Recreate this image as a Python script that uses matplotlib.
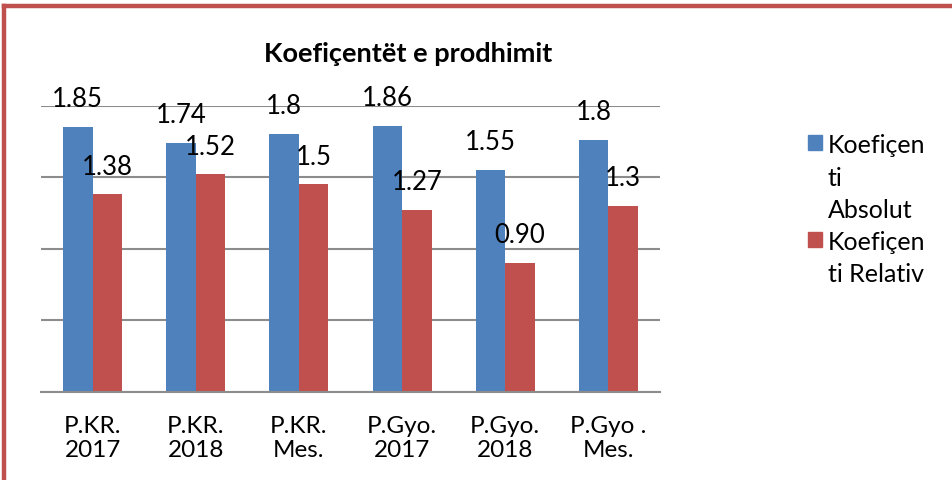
import numpy as np
import matplotlib
matplotlib.use('Agg')
import matplotlib.pyplot as plt
from matplotlib.patches import Rectangle
from matplotlib.lines import Line2D

# ---- data ----
categories = ["P.KR.\n2017", "P.KR.\n2018", "P.KR.\nMes.",
              "P.Gyo.\n2017", "P.Gyo.\n2018", "P.Gyo .\nMes."]
series_names = ["Koefiçen\nti\nAbsolut", "Koefiçen\nti Relativ"]
absolut = [1.85, 1.74, 1.80, 1.86, 1.55, 1.76]
relativ = [1.38, 1.52, 1.45, 1.27, 0.90, 1.30]
absolut_labels = ["1.85", "1.74", "1.8", "1.86", "1.55", "1.8"]
relativ_labels = ["1.38", "1.52", "1.5", "1.27", "0.90", "1.3"]
title = "Koefiçentët e prodhimit"
y_ticks = [0, 0.5, 1.0, 1.5, 2.0]

BLUE = '#4F81BD'
RED = '#C0504D'
GRID = '#8C8C8C'

plt.rcParams['font.family'] = ['Lato', 'DejaVu Sans']

W, H = 953, 481
fig = plt.figure(figsize=(W / 100, H / 100), dpi=100)

ax = fig.add_axes([41 / W, (H - 392.7) / H, 619 / W, 286 / H])
x = np.arange(len(categories))
bw = 1 / 3.5
b1 = ax.bar(x - bw / 2, absolut, bw, color=BLUE, zorder=2, label=series_names[0])
b2 = ax.bar(x + bw / 2, relativ, bw, color=RED, zorder=2, label=series_names[1])

ax.set_xlim(-0.5, len(categories) - 0.5)
ax.set_ylim(0, 2.0)
ax.set_yticks(y_ticks)
ax.yaxis.grid(True, color=GRID, lw=1.5, zorder=1)
ax.set_axisbelow(True)
ax.tick_params(axis='y', length=0, labelleft=False)
ax.set_xticks(x)
ax.set_xticklabels(categories, fontsize=17.5, linespacing=1.2)
ax.tick_params(axis='x', length=0, pad=16.5)
for s in ['top', 'right', 'left']:
    ax.spines[s].set_visible(False)
ax.spines['bottom'].set_color(GRID)
ax.spines['bottom'].set_linewidth(1.5)

for bars, labels in ((b1, absolut_labels), (b2, relativ_labels)):
    for rect, lab in zip(bars, labels):
        ax.annotate(lab, (rect.get_x() + rect.get_width() / 2, rect.get_height()),
                    xytext=(0, 15), textcoords='offset points',
                    ha='center', va='baseline', fontsize=18.5, color='black', zorder=4)

# title
fig.text(408 / W, 1 - 62 / H, title, ha='center', va='baseline',
         fontsize=19.5, fontweight='bold')

# legend (manual, handle aligned with first text line)
line_idx = 0
sq_tops = [136, 233.3]
for i, (name, col) in enumerate(zip(series_names, [BLUE, RED])):
    fig.add_artist(Rectangle((808 / W, 1 - (sq_tops[i] + 14.7) / H), 14 / W, 14.7 / H,
                             transform=fig.transFigure, color=col))
    for ln in name.split('\n'):
        yb = 153.3 + line_idx * 32.3
        fig.text(828 / W, 1 - yb / H, ln, ha='left', va='baseline', fontsize=18)
        line_idx += 1

# red frame
fig.add_artist(Line2D([4 / W, 4 / W], [0, 1 - 6.7 / H], transform=fig.transFigure,
                      color=RED, lw=3.2, solid_capstyle='projecting'))
fig.add_artist(Line2D([4 / W, 1], [1 - 6.7 / H, 1 - 6.7 / H], transform=fig.transFigure,
                      color=RED, lw=3.2, solid_capstyle='projecting'))

fig.savefig('out.png', dpi=100)
